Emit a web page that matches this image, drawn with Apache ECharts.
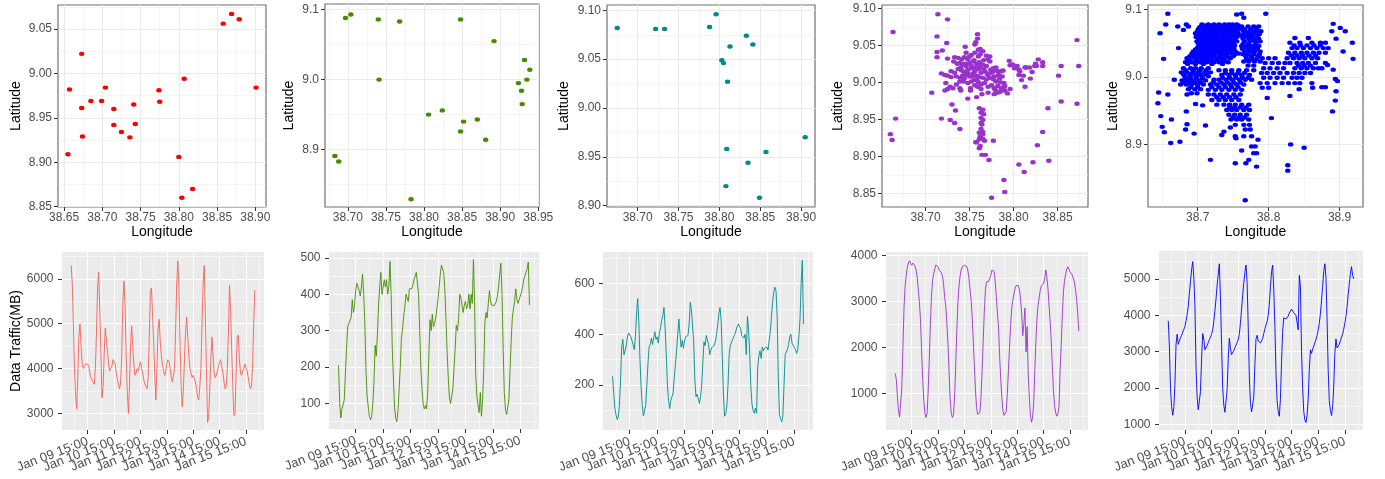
<!DOCTYPE html>
<html><head><meta charset="utf-8">
<script src="https://cdn.jsdelivr.net/npm/echarts@6/dist/echarts.min.js"></script>
<style>html,body{margin:0;padding:0;background:#fff;}#c{width:1385px;height:479px;}</style>
</head><body><div id="c"></div>
<script>
// ---------- scatter data: [longitude, latitude] ----------
const redSites = [[38.673,9.022],[38.657,8.982],[38.673,8.961],[38.685,8.969],[38.699,8.969],[38.704,8.984],[38.674,8.929],[38.655,8.909],[38.715,8.960],[38.715,8.942],[38.725,8.934],[38.736,8.928],[38.741,8.965],[38.743,8.943],[38.774,8.981],[38.775,8.968],[38.807,8.994],[38.800,8.906],[38.804,8.860],[38.818,8.870],[38.858,9.056],[38.869,9.067],[38.879,9.061],[38.901,8.984]];
const greenSites = [[38.683,8.891],[38.688,8.883],[38.697,9.088],[38.704,9.093],[38.740,9.086],[38.741,9.000],[38.768,9.083],[38.783,8.829],[38.806,8.950],[38.824,8.956],[38.848,9.086],[38.848,8.926],[38.852,8.940],[38.870,8.943],[38.881,8.914],[38.892,9.055],[38.924,8.995],[38.932,9.028],[38.935,9.000],[38.939,9.014],[38.928,8.984],[38.929,8.965]];
const tealSites = [[38.675,9.082],[38.722,9.081],[38.733,9.081],[38.788,9.083],[38.796,9.096],[38.833,9.074],[38.841,9.065],[38.813,9.063],[38.803,9.049],[38.805,9.046],[38.810,9.027],[38.809,8.958],[38.808,8.920],[38.835,8.944],[38.857,8.955],[38.849,8.908],[38.905,8.970]];
const purpleSites = [[38.663,9.068],[38.714,9.092],[38.725,9.085],[38.713,9.062],[38.724,9.053],[38.713,9.041],[38.719,9.043],[38.713,9.034],[38.725,9.032],[38.707,8.986],[38.666,8.951],[38.660,8.930],[38.662,8.922],[38.718,8.951],[38.730,8.970],[38.734,8.962],[38.728,8.949],[38.733,8.945],[38.739,8.937],[38.745,9.048],[38.759,9.065],[38.757,9.054],
[38.733,9.034],[38.737,9.033],[38.741,9.031],[38.744,9.034],[38.748,9.031],[38.752,9.037],[38.756,9.040],[38.760,9.044],[38.762,9.045],[38.765,9.042],[38.769,9.036],[38.773,9.035],
[38.739,9.026],[38.742,9.024],[38.746,9.022],[38.750,9.026],[38.754,9.028],[38.758,9.025],[38.761,9.027],[38.765,9.024],[38.769,9.022],[38.774,9.017],[38.777,9.015],
[38.729,9.015],[38.733,9.013],[38.737,9.018],[38.741,9.016],[38.744,9.014],[38.748,9.017],[38.752,9.019],[38.756,9.015],[38.760,9.018],[38.763,9.013],[38.767,9.015],[38.771,9.010],[38.775,9.013],[38.778,9.008],[38.782,9.015],[38.786,9.015],[38.788,9.016],
[38.718,9.012],[38.722,9.010],[38.725,9.009],[38.729,9.007],[38.735,9.008],[38.739,9.006],[38.742,9.009],[38.746,9.010],[38.750,9.008],[38.754,9.012],[38.758,9.009],[38.761,9.007],[38.765,9.006],[38.769,9.004],[38.773,9.006],[38.777,9.004],[38.780,9.001],[38.784,9.005],[38.787,9.008],[38.789,8.999],
[38.723,8.999],[38.728,8.994],[38.731,8.992],[38.735,8.997],[38.739,9.001],[38.743,9.001],[38.748,8.999],[38.752,9.001],[38.755,9.003],[38.760,9.000],[38.763,8.997],[38.767,8.999],[38.771,8.994],[38.775,8.996],[38.778,8.992],[38.782,8.995],[38.786,8.992],[38.789,8.994],
[38.722,8.989],[38.725,8.991],[38.739,8.992],[38.740,8.989],[38.751,8.992],[38.751,8.989],[38.759,8.994],[38.763,8.991],[38.758,8.980],[38.764,8.984],[38.748,8.978],[38.778,8.984],[38.781,8.986],[38.784,8.987],[38.787,8.989],[38.790,8.989],[38.796,8.991],
[38.796,9.023],[38.795,9.029],[38.799,9.024],[38.801,9.019],[38.804,9.022],[38.806,9.017],[38.807,9.015],[38.806,9.010],[38.809,9.003],[38.811,9.009],[38.813,9.020],[38.818,9.020],[38.821,9.014],[38.819,9.005],[38.813,8.994],[38.824,9.022],[38.826,9.022],[38.825,9.025],[38.833,9.027],[38.833,9.022],[38.828,9.031],[38.814,9.020],
[38.854,9.022],[38.851,9.009],[38.854,8.974],[38.839,8.965],[38.833,8.933],[38.827,8.915],[38.840,8.894],[38.822,8.892],[38.806,8.889],[38.812,8.879],[38.789,8.868],[38.790,8.852],[38.775,8.844],[38.777,8.921],[38.872,9.057],[38.874,9.022],[38.872,8.971],
[38.761,8.965],[38.765,8.963],[38.763,8.959],[38.766,8.957],[38.763,8.952],[38.765,8.949],[38.763,8.945],[38.764,8.943],[38.763,8.937],[38.765,8.933],[38.761,8.932],[38.765,8.930],[38.762,8.927],[38.765,8.924],[38.758,8.919],[38.761,8.923],[38.767,8.921],[38.757,8.919],[38.761,8.911],[38.764,8.902],[38.768,8.902],[38.772,8.895],[38.762,8.914],
[38.746,9.040],[38.773,9.028],[38.771,9.031],[38.777,9.019],[38.756,9.051],[38.759,9.059],
[38.755,9.030],[38.760,9.035],[38.750,9.035],[38.745,9.025],[38.752,9.022],[38.757,9.020],[38.762,9.022],[38.748,9.012],[38.753,9.008],[38.758,9.004],[38.744,9.005],[38.766,9.018],[38.770,9.012],[38.740,9.020],[38.736,9.025],[38.732,9.028],[38.762,9.038],[38.766,9.030],[38.780,9.020],[38.783,9.010],[38.785,9.000],[38.790,8.995],[38.793,8.985],[38.779,8.990],[38.771,8.986],[38.756,8.996]];
// blue panel: dense rows read as [latitude, [longitudes...]] plus single outliers
const blueRows = [
[9.078,[38.706,38.715,38.723,38.730,38.738,38.744,38.749,38.755]],
[9.0765,[38.709,38.718,38.732,38.746,38.757]],
[9.074,[38.703,38.711,38.719,38.727,38.734,38.741,38.747,38.752,38.758]],
[9.0725,[38.707,38.715,38.723,38.730,38.737,38.744,38.751,38.756]],
[9.071,[38.701,38.711,38.719,38.726,38.733,38.741,38.748,38.753,38.759]],
[9.068,[38.700,38.708,38.716,38.723,38.731,38.739,38.746,38.754]],
[9.0665,[38.701,38.709,38.717,38.724,38.731,38.739,38.747,38.754]],
[9.065,[38.697,38.705,38.713,38.720,38.727,38.735,38.743,38.751,38.757]],
[9.062,[38.699,38.705,38.712,38.720,38.727,38.735,38.742,38.750,38.756]],
[9.0595,[38.698,38.713,38.728,38.743,38.755]],
[9.060,[38.702,38.708,38.716,38.724,38.730,38.739,38.746,38.753]],
[9.0575,[38.705,38.713,38.721,38.728,38.735,38.742,38.749]],
[9.056,[38.702,38.710,38.717,38.724,38.731,38.738,38.745,38.752]],
[9.053,[38.699,38.706,38.713,38.720,38.727,38.734,38.741,38.748,38.755]],
[9.0515,[38.705,38.712,38.719,38.727,38.734,38.741,38.747]],
[9.050,[38.701,38.709,38.716,38.723,38.730,38.737,38.743,38.750]],
[9.047,[38.704,38.711,38.718,38.725,38.732,38.739,38.745,38.752]],
[9.0455,[38.707,38.714,38.722,38.729,38.736,38.743,38.749]],
[9.044,[38.700,38.711,38.718,38.725,38.733,38.740,38.746]],
[9.0425,[38.703,38.714,38.727,38.738,38.751]],
[9.041,[38.697,38.707,38.715,38.721,38.729,38.736,38.743,38.749]],
[9.0395,[38.699,38.709,38.717,38.725,38.733,38.741,38.749]],
[9.038,[38.694,38.704,38.713,38.720,38.729,38.738,38.745,38.753]],
[9.0365,[38.697,38.706,38.715,38.722,38.730,38.738,38.745,38.753]],
[9.035,[38.692,38.701,38.711,38.718,38.726,38.734,38.742,38.748,38.758]],
[9.0335,[38.696,38.706,38.715,38.723,38.738,38.752]],
[9.031,[38.689,38.700,38.710,38.720,38.731,38.741,38.750]],
[9.0295,[38.692,38.702,38.711,38.722,38.732,38.742]],
[9.028,[38.685,38.697,38.706,38.715,38.727,38.737,38.746]],
[9.025,[38.687,38.698,38.709,38.718,38.727,38.736]],
[9.0235,[38.690,38.701,38.711,38.720,38.731,38.739]],
[9.022,[38.683,38.692,38.704,38.713,38.723,38.730,38.743]],
[9.0195,[38.686,38.697,38.708,38.720,38.735]],
[9.075,[38.762,38.771,38.779,38.786]],
[9.071,[38.766,38.775,38.783]],
[9.068,[38.765,38.773,38.781,38.789]],
[9.0655,[38.768,38.777,38.785]],
[9.064,[38.765,38.772,38.780,38.787]],
[9.061,[38.762,38.769,38.776,38.784]],
[9.057,[38.764,38.772,38.779,38.786]],
[9.053,[38.766,38.774,38.781,38.788]],
[9.049,[38.764,38.772,38.782]],
[9.046,[38.762,38.770,38.778,38.786]],
[9.0445,[38.767,38.775,38.782]],
[9.042,[38.763,38.771,38.777,38.784]],
[9.038,[38.766,38.773,38.780,38.788]],
[9.034,[38.764,38.771,38.779,38.787]],
[9.031,[38.768,38.776,38.785]],
[9.027,[38.769,38.776,38.783]],
[9.023,[38.765,38.772,38.780,38.788]],
[9.017,[38.771,38.779]],
[9.013,[38.680,38.690,38.697,38.705,38.715]],
[9.010,[38.683,38.694,38.703,38.712]],
[9.007,[38.677,38.685,38.693,38.701,38.710,38.718]],
[9.004,[38.680,38.689,38.697,38.704,38.712]],
[9.001,[38.682,38.690,38.698,38.706,38.715]],
[8.998,[38.683,38.690,38.698,38.707]],
[8.995,[38.678,38.686,38.694,38.702,38.711]],
[8.992,[38.681,38.689,38.696,38.704]],
[8.989,[38.684,38.692,38.700,38.708]],
[8.985,[38.690,38.700]],
[8.982,[38.687,38.696,38.704]],
[8.976,[38.691,38.699]],
[9.010,[38.730,38.739,38.748,38.758,38.769,38.779]],
[9.006,[38.739,38.748,38.757,38.766]],
[9.003,[38.734,38.744,38.753,38.762,38.773]],
[8.999,[38.735,38.745,38.754,38.763,38.771]],
[8.996,[38.723,38.730,38.740,38.749,38.759,38.767,38.776]],
[8.992,[38.722,38.733,38.742,38.751,38.760]],
[8.989,[38.718,38.727,38.737,38.746,38.755,38.765]],
[8.985,[38.720,38.730,38.739,38.748,38.757]],
[8.981,[38.715,38.725,38.734,38.744,38.753,38.762]],
[8.974,[38.715,38.723,38.732,38.741,38.751,38.760]],
[8.970,[38.727,38.736,38.745,38.754]],
[8.966,[38.720,38.730,38.739,38.748,38.758]],
[8.959,[38.727,38.737,38.745,38.753,38.762,38.772]],
[8.955,[38.745,38.752,38.760,38.768]],
[8.951,[38.741,38.748,38.755,38.765,38.773]],
[8.944,[38.744,38.752,38.760,38.769]],
[8.940,[38.750,38.758,38.766]],
[8.937,[38.747,38.755,38.762,38.772]],
[8.929,[38.753,38.765,38.773]],
[8.922,[38.767,38.774]],
[8.912,[38.765,38.776]],
[8.897,[38.776,38.781]],
[8.887,[38.779,38.783]],
[9.028,[38.791,38.800,38.809]],
[9.021,[38.795,38.805,38.814,38.823]],
[9.013,[38.793,38.802,38.812,38.821]],
[9.006,[38.790,38.798,38.807,38.816,38.826]],
[8.999,[38.793,38.802,38.812,38.821]],
[8.991,[38.788,38.798,38.809,38.819,38.828]],
[8.984,[38.791,38.800]],
[9.058,[38.837,38.856]],
[9.051,[38.830,38.844,38.861,38.873,38.880]],
[9.047,[38.836,38.845,38.854,38.864,38.873]],
[9.043,[38.833,38.840,38.849,38.859,38.868,38.877,38.884]],
[9.036,[38.828,38.837,38.846,38.854,38.863,38.871,38.880]],
[9.032,[38.832,38.840,38.848,38.857,38.866]],
[9.028,[38.826,38.835,38.843,38.851,38.861,38.869]],
[9.021,[38.830,38.840,38.848,38.856,38.866,38.880]],
[9.017,[38.842,38.850,38.859]],
[9.013,[38.837,38.846,38.854,38.863,38.875]],
[9.006,[38.835,38.843,38.851,38.859]],
[8.999,[38.833,38.840,38.847]],
[8.991,[38.837,38.844,38.861]]
];
const blueOutliers = [[38.658,9.094],[38.655,9.078],[38.647,9.065],[38.652,9.027],[38.645,8.977],[38.644,8.961],[38.648,8.942],[38.650,8.926],[38.653,8.918],[38.663,8.937],[38.662,8.902],[38.675,8.904],[38.658,8.974],[38.667,8.996],[38.676,8.989],[38.673,9.043],[38.672,9.075],[38.680,9.070],[38.684,9.078],[38.687,9.075],[38.685,8.974],[38.684,8.949],[38.685,8.930],[38.695,8.916],[38.683,8.922],[38.697,8.960],[38.707,8.958],[38.711,8.928],[38.718,8.877],[38.734,8.914],[38.737,8.919],[38.746,8.925],[38.753,8.912],[38.754,8.909],[38.762,8.891],[38.772,8.877],[38.768,8.872],[38.753,8.872],[38.765,9.088],[38.762,9.094],[38.755,9.093],[38.796,9.094],[38.767,8.817],[38.783,8.867],[38.785,8.907],[38.798,8.969],[38.804,8.939],[38.827,8.869],[38.827,8.861],[38.831,8.900],[38.850,8.895],[38.830,8.972],[38.843,8.982],[38.862,8.984],[38.880,8.985],[38.890,8.949],[38.894,8.965],[38.895,8.979],[38.897,8.994],[38.894,8.997],[38.905,9.038],[38.919,9.027],[38.918,9.051],[38.908,9.068],[38.901,9.073],[38.891,9.079],[38.889,9.068],[38.895,9.057],[38.883,9.018],[38.891,9.011],[38.870,9.013],[38.875,8.985]];

// ---------- hourly traffic (MB), Jan 09 00:00 .. Jan 15 23:00 ----------
const trafficRed = [6300,5900,5000,4000,3400,3100,3800,4700,5000,4500,4100,4000,4050,4100,4100,4100,4050,3900,3800,3750,3700,3650,4000,4800,
5800,6150,5300,4400,3350,3600,4300,4900,4900,4400,4100,3950,3950,4050,4200,4200,4100,3900,3750,3650,3550,3700,4300,5500,
5950,5400,4300,3500,3000,3600,4500,4950,4500,4100,3850,3900,4000,3950,4050,4150,4000,3900,3750,3650,3600,3550,3800,4700,
5700,5800,5200,4600,3900,3300,4000,4900,5100,4600,4300,4100,3950,3850,3950,4100,4200,4150,4000,3800,3700,3700,4000,4900,
5900,6400,5800,4600,3600,3150,3500,4200,4800,5150,4700,4300,4000,3900,3800,3850,3850,3700,3550,3350,3300,3600,4000,5000,
5900,6300,5200,4000,2800,2900,3500,4200,4700,4300,3900,3800,3850,3950,4050,4150,4200,4050,3900,3700,3550,3600,4000,4800,
5850,5300,4400,3600,2950,3000,3900,4700,4750,4200,3900,3850,3950,4000,4100,4100,3950,3800,3650,3550,3600,4100,5000,5750];
const trafficGreen = [205,100,60,85,90,110,180,250,310,320,320,335,385,350,370,410,430,420,410,395,420,455,400,320,
190,120,90,65,55,65,100,160,260,230,290,370,420,460,400,420,440,420,440,400,420,490,400,250,
170,90,60,50,80,140,200,280,305,340,365,400,400,380,415,420,415,425,440,450,460,465,400,300,
200,140,100,85,95,85,130,230,330,300,345,310,320,335,360,385,420,455,480,480,460,410,330,240,
170,115,100,105,140,195,250,315,300,330,400,390,385,350,370,380,360,370,400,360,400,375,495,380,
180,120,95,75,130,65,110,190,320,350,335,375,410,380,370,365,368,372,380,395,420,455,485,400,
250,130,85,70,65,110,190,270,335,360,380,415,385,375,385,395,405,420,440,450,445,470,488,370];
const trafficTeal = [235,170,110,85,65,75,120,220,350,380,320,335,355,390,405,400,390,375,360,340,390,480,540,450,
300,190,120,80,78,120,200,285,350,360,385,360,365,410,380,390,365,405,425,455,475,505,425,320,
200,140,108,140,155,170,230,280,335,340,460,400,350,375,345,375,390,385,395,440,525,495,500,370,
220,155,165,160,128,155,200,290,370,355,395,390,360,320,338,348,355,357,372,400,435,480,505,455,
310,165,78,88,120,200,320,355,355,380,377,400,415,430,440,440,423,395,390,385,400,320,470,420,
325,190,125,100,90,110,90,270,315,335,305,350,335,345,340,350,338,375,410,470,525,565,585,570,
470,230,85,68,56,80,200,320,330,340,360,390,400,365,357,350,340,325,340,390,460,600,690,440];
const trafficPurple = [1430,1300,950,620,480,500,1100,1950,2830,3320,3550,3730,3830,3880,3850,3780,3830,3820,3770,3680,3520,3260,2990,2600,
1950,1300,850,580,470,560,1050,1720,2500,3100,3450,3600,3700,3790,3830,3750,3680,3645,3620,3550,3380,3080,2900,2520,
2060,1470,870,570,470,520,900,1550,2330,2950,3320,3540,3680,3750,3775,3783,3783,3760,3680,3520,3280,3040,2680,2150,
1610,1060,690,540,500,580,900,1450,2100,2750,3230,3420,3390,3430,3500,3560,3680,3710,3640,3420,3100,2740,2420,1800,
1300,900,620,520,495,600,1000,1500,2000,2500,2850,3020,3160,3280,3340,3380,3340,3250,3050,2750,2250,2500,2850,1900,
2450,1400,920,520,370,480,800,1500,2150,2650,2930,3080,3250,3340,3320,3380,3500,3680,3520,3260,2880,2530,2100,1550,
1030,720,570,500,560,720,1500,2050,2700,3200,3450,3580,3700,3750,3780,3640,3600,3570,3540,3420,3250,3050,2750,2350];
const trafficBlue = [3850,3150,2000,1480,1250,1450,2100,3200,3480,3200,3300,3380,3450,3540,3610,3690,3850,4020,4250,4600,4930,5250,5480,5050,
4250,2550,1750,1400,1350,1900,2800,3500,3350,3050,3090,3170,3250,3330,3400,3480,3600,3840,4130,4450,4830,5130,5420,4500,
3200,2000,1520,1330,1350,1950,2800,3370,3080,2920,2950,3030,3110,3180,3250,3330,3490,3800,4170,4550,4900,5180,5385,4900,
3700,2300,1600,1340,1300,1750,2650,3350,3450,3290,3240,3240,3290,3360,3500,3620,3740,3830,4000,4300,4790,5200,5380,4700,
3700,2400,1650,1350,1220,1700,2700,3550,3930,3900,3900,3940,3980,4060,4100,4170,4140,4070,4050,4000,4050,3600,5100,4800,
3000,2000,1350,1120,1050,1250,1700,2500,3050,2950,3070,3150,3250,3330,3440,3600,3780,4050,4400,4800,5200,5420,5050,3900,
2500,1650,1380,1240,1480,2050,2950,3350,3100,3110,3200,3300,3400,3480,3620,3780,3970,4240,4580,4850,5150,5340,5100,5000];

// ---------- tick values / labels ----------
const dayTicks = [0,24,48,72,96,120,144];  // hours after Jan 09 15:00
const dayLabels = ["Jan 09 15:00","Jan 10 15:00","Jan 11 15:00","Jan 12 15:00","Jan 13 15:00","Jan 14 15:00","Jan 15 15:00"];
const p1XTicks=[38.65,38.70,38.75,38.80,38.85,38.90], p1XLabels=["38.65","38.70","38.75","38.80","38.85","38.90"];
const p1YTicks=[8.85,8.90,8.95,9.00,9.05], p1YLabels=["8.85","8.90","8.95","9.00","9.05"];
const p2XTicks=[38.70,38.75,38.80,38.85,38.90,38.95], p2XLabels=["38.70","38.75","38.80","38.85","38.90","38.95"];
const p2YTicks=[8.9,9.0,9.1], p2YLabels=["8.9","9.0","9.1"];
const p3XTicks=[38.70,38.75,38.80,38.85,38.90], p3XLabels=["38.70","38.75","38.80","38.85","38.90"];
const p3YTicks=[8.90,8.95,9.00,9.05,9.10], p3YLabels=["8.90","8.95","9.00","9.05","9.10"];
const p4XTicks=[38.70,38.75,38.80,38.85], p4XLabels=["38.70","38.75","38.80","38.85"];
const p4YTicks=[8.85,8.90,8.95,9.00,9.05,9.10], p4YLabels=["8.85","8.90","8.95","9.00","9.05","9.10"];
const p5XTicks=[38.7,38.8,38.9], p5XLabels=["38.7","38.8","38.9"];
const p5YTicks=[8.9,9.0,9.1], p5YLabels=["8.9","9.0","9.1"];
const redTicks=[3000,4000,5000,6000], greenTicks=[100,200,300,400,500], tealTicks=[200,400,600], purpleTicks=[1000,2000,3000,4000], blueTicks=[1000,2000,3000,4000,5000];

// ---------- build ----------
const FONT = '"Liberation Sans", Arial, sans-serif';
const blueSites = blueOutliers.slice();
blueRows.forEach(r => r[1].forEach(lon => blueSites.push([lon, r[0]])));
const hourOffsets = trafficRed.map((_, i) => i - 15);
const HMIN = -23.35, HMAX = 160.35;

function labelFor(ticks, labels) {
  return v => { for (let i = 0; i < ticks.length; i++) if (Math.abs(ticks[i] - v) < 1e-6) return labels[i]; return ''; };
}
function makeAxis(o) {
  return {
    type: 'value', gridIndex: o.g, min: o.min, max: o.max, minInterval: o.step, maxInterval: o.step,
    name: o.name || '', nameLocation: 'middle', nameGap: o.nameGap || 0,
    nameTextStyle: { color: '#000', fontSize: 14, fontFamily: FONT },
    axisLine: { show: false, onZero: false },
    axisTick: { show: true, length: 4, lineStyle: { color: '#333', width: 1 }, customValues: o.ticks },
    axisLabel: { show: true, customValues: o.labelValues || o.ticks, formatter: labelFor(o.ticks, o.labels), color: '#4D4D4D',
      fontSize: o.fontSize || 12, fontFamily: FONT, margin: o.margin, rotate: o.rotate || 0, hideOverlap: false },
    splitLine: { show: true, lineStyle: { color: o.major, width: o.majorW } },
    minorTick: { show: false, splitNumber: 2 },
    minorSplitLine: { show: true, lineStyle: { color: o.major, width: o.minorW } }
  };
}
const topStyle = { major: '#EBEBEB', majorW: 1, minorW: 0.5 };
const botStyle = { major: '#FFFFFF', majorW: 1.1, minorW: 0.55 };
function topGrid(l, t, w, h) { return { left: l, top: t, width: w, height: h, show: true, backgroundColor: '#fff', borderColor: '#707070', borderWidth: 1.2, containLabel: false, outerBoundsMode: 'none' }; }
function botGrid(l, t, w, h) { return { left: l, top: t, width: w, height: h, show: true, backgroundColor: '#EBEBEB', borderWidth: 0, containLabel: false, outerBoundsMode: 'none' }; }

const grids = [topGrid(58,5,208,202), topGrid(325,4,214,203), topGrid(607,5,208,202), topGrid(882,5,206,202), topGrid(1148,5,215,202),
  botGrid(62,252,202,178), botGrid(329,252,210,177), botGrid(603,252,210,178), botGrid(886,252,202,178), botGrid(1159,251,204,179)];

const xAxes = [], yAxes = [];
const scatSpec = [
  [0, 38.642, 38.914, 0.05, p1XTicks, p1XLabels, 8.8496, 9.077, 0.05, p1YTicks, p1YLabels, 35],
  [1, 38.670, 38.951, 0.05, p2XTicks, p2XLabels, 8.818, 9.108, 0.1, p2YTicks, p2YLabels, 29],
  [2, 38.6625, 38.917, 0.05, p3XTicks, p3XLabels, 8.8986, 9.1055, 0.05, p3YTicks, p3YLabels, 36],
  [3, 38.6505, 38.8845, 0.05, p4XTicks, p4XLabels, 8.8316, 9.1044, 0.05, p4YTicks, p4YLabels, 37],
  [4, 38.630, 38.933, 0.1, p5XTicks, p5XLabels, 8.807, 9.107, 0.1, p5YTicks, p5YLabels, 28]
];
scatSpec.forEach(s => {
  xAxes.push(makeAxis(Object.assign({ g: s[0], min: s[1], max: s[2], step: s[3], ticks: s[4], labels: s[5], name: 'Longitude', nameGap: 17, margin: 5 }, topStyle)));
  yAxes.push(makeAxis(Object.assign({ g: s[0], min: s[6], max: s[7], step: s[8], ticks: s[9], labels: s[10], name: 'Latitude', nameGap: s[11], margin: 6 }, topStyle)));
});
const lineSpec = [
  [5, 2630, 6600, 1000, redTicks, 'Data Traffic(MB)'],
  [6, 30, 516, 100, greenTicks, ''],
  [7, 24, 723, 200, tealTicks, ''],
  [8, 200, 4070, 1000, purpleTicks, ''],
  [9, 843, 5771, 1000, blueTicks, '']
];
lineSpec.forEach(s => {
  xAxes.push(makeAxis(Object.assign({ g: s[0], min: HMIN, max: HMAX, step: 24, ticks: dayTicks, labels: dayLabels,
    labelValues: [HMIN].concat(dayTicks, [HMAX]), margin: 11, rotate: 21, fontSize: 13 }, botStyle)));
  yAxes.push(makeAxis(Object.assign({ g: s[0], min: s[1], max: s[2], step: s[3], ticks: s[4], labels: s[4].map(String), name: s[5], nameGap: 38, margin: 8.5 }, botStyle)));
});

const scatColors = ['#FF0000', '#458B00', '#008B8B', '#9932CC', '#0000FF'];
const scatData = [redSites, greenSites, tealSites, purpleSites, blueSites];
const lineColors = ['#F5605A', '#458B00', '#008B8B', '#9932CC', '#0000FF'];
const lineData = [trafficRed, trafficGreen, trafficTeal, trafficPurple, trafficBlue];
const seriesList = [];
scatData.forEach((d, i) => seriesList.push({ type: 'scatter', xAxisIndex: i, yAxisIndex: i, data: d, symbol: 'circle',
  symbolSize: [5.4, 4.4], itemStyle: { color: scatColors[i], opacity: 1 }, silent: true }));
lineData.forEach((d, i) => seriesList.push({ type: 'line', xAxisIndex: 5 + i, yAxisIndex: 5 + i,
  data: d.map((v, k) => [hourOffsets[k], v]), showSymbol: false, symbol: 'none',
  lineStyle: { color: lineColors[i], width: 0.9 }, silent: true }));

const chart = echarts.init(document.getElementById('c'), null, { renderer: 'canvas' });
chart.setOption({ animation: false, backgroundColor: '#fff', grid: grids, xAxis: xAxes, yAxis: yAxes, series: seriesList });
</script></body></html>
